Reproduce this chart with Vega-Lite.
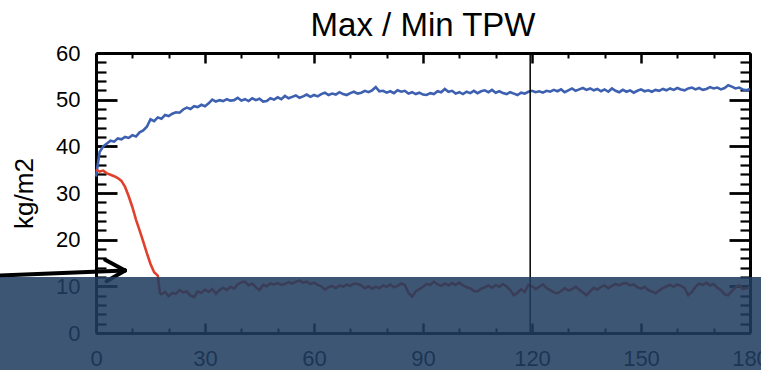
{
  "$schema": "https://vega.github.io/schema/vega-lite/v6.json",
  "width": 654,
  "height": 280,
  "autosize": {"type": "none"},
  "padding": {"left": 96, "top": 53, "right": 11, "bottom": 37},
  "background": "white",
  "config": {"view": {"stroke": null}, "font": "Liberation Sans"},
  "title": {"text": "Max / Min TPW", "fontSize": 33, "font": "Liberation Sans", "fontWeight": "normal", "color": "black", "anchor": "middle", "frame": "group", "baseline": "top", "offset": 14, "dy": 15},
  "datasets": {
    "tpw": [
      {"t":0,"max":33.5,"min":35.0},{"t":1,"max":38.8,"min":34.6},{"t":2,"max":40.0,"min":34.8},{"t":3,"max":40.6,"min":34.2},{"t":4,"max":41.2,"min":33.9},
      {"t":5,"max":41.0,"min":33.6},{"t":6,"max":41.7,"min":33.2},{"t":7,"max":41.5,"min":32.6},{"t":8,"max":42.0,"min":31.3},{"t":9,"max":41.8,"min":29.3},
      {"t":10,"max":42.4,"min":27.0},{"t":11,"max":42.1,"min":24.3},{"t":12,"max":43.0,"min":22.0},{"t":13,"max":43.4,"min":19.6},{"t":14,"max":44.2,"min":17.1},
      {"t":15,"max":45.8,"min":14.8},{"t":16,"max":45.4,"min":13.0},{"t":17,"max":46.2,"min":12.3},{"t":17.6,"max":null,"min":8.5},{"t":18,"max":45.9,"min":8.3},{"t":19,"max":46.7,"min":8.8},
      {"t":20,"max":46.5,"min":7.9},{"t":21,"max":47.0,"min":8.6},{"t":22,"max":47.3,"min":8.4},{"t":23,"max":47.2,"min":9.2},{"t":24,"max":47.9,"min":8.7},
      {"t":25,"max":48.3,"min":8.9},{"t":26,"max":48.0,"min":8.0},{"t":27,"max":48.6,"min":7.7},{"t":28,"max":48.4,"min":8.9},{"t":29,"max":48.9,"min":8.6},
      {"t":30,"max":48.6,"min":9.3},{"t":31,"max":49.2,"min":8.8},{"t":32,"max":50.0,"min":9.4},{"t":33,"max":49.6,"min":8.4},{"t":34,"max":49.9,"min":9.2},
      {"t":35,"max":49.7,"min":9.7},{"t":36,"max":50.1,"min":9.2},{"t":37,"max":49.8,"min":9.9},{"t":38,"max":49.9,"min":9.5},{"t":39,"max":50.4,"min":10.4},
      {"t":40,"max":49.8,"min":10.9},{"t":41,"max":50.1,"min":11.0},{"t":42,"max":49.7,"min":10.2},{"t":43,"max":50.3,"min":10.6},{"t":44,"max":49.9,"min":9.8},
      {"t":45,"max":50.2,"min":9.2},{"t":46,"max":49.6,"min":10.3},{"t":47,"max":49.7,"min":10.0},{"t":48,"max":50.3,"min":10.6},{"t":49,"max":50.0,"min":10.4},
      {"t":50,"max":50.5,"min":10.7},{"t":51,"max":50.1,"min":10.3},{"t":52,"max":50.8,"min":10.5},{"t":53,"max":50.3,"min":10.9},{"t":54,"max":50.6,"min":10.6},
      {"t":55,"max":50.9,"min":11.0},{"t":56,"max":50.4,"min":11.2},{"t":57,"max":50.7,"min":10.8},{"t":58,"max":51.1,"min":11.0},{"t":59,"max":50.6,"min":10.5},
      {"t":60,"max":51.0,"min":10.8},{"t":61,"max":50.7,"min":10.3},{"t":62,"max":51.2,"min":10.0},{"t":63,"max":51.5,"min":9.3},{"t":64,"max":51.0,"min":9.8},
      {"t":65,"max":51.3,"min":10.1},{"t":66,"max":51.1,"min":9.6},{"t":67,"max":51.6,"min":10.2},{"t":68,"max":51.2,"min":9.9},{"t":69,"max":51.0,"min":10.4},
      {"t":70,"max":51.4,"min":10.1},{"t":71,"max":51.7,"min":10.6},{"t":72,"max":51.3,"min":10.5},{"t":73,"max":51.5,"min":10.2},{"t":74,"max":51.9,"min":9.6},
      {"t":75,"max":51.6,"min":10.0},{"t":76,"max":52.0,"min":9.5},{"t":77,"max":52.7,"min":9.9},{"t":78,"max":51.8,"min":9.6},{"t":79,"max":51.9,"min":10.2},
      {"t":80,"max":51.5,"min":9.9},{"t":81,"max":51.8,"min":10.4},{"t":82,"max":51.4,"min":9.8},{"t":83,"max":52.0,"min":10.1},{"t":84,"max":51.7,"min":10.6},
      {"t":85,"max":51.9,"min":10.3},{"t":86,"max":51.3,"min":8.6},{"t":87,"max":51.6,"min":7.8},{"t":88,"max":51.2,"min":8.9},{"t":89,"max":51.5,"min":9.4},
      {"t":90,"max":51.1,"min":9.9},{"t":91,"max":51.0,"min":10.5},{"t":92,"max":51.4,"min":10.3},{"t":93,"max":51.2,"min":11.0},{"t":94,"max":51.8,"min":10.4},
      {"t":95,"max":51.6,"min":10.1},{"t":96,"max":52.3,"min":10.6},{"t":97,"max":51.7,"min":10.2},{"t":98,"max":51.9,"min":10.7},{"t":99,"max":51.3,"min":10.3},
      {"t":100,"max":51.6,"min":10.8},{"t":101,"max":51.2,"min":10.2},{"t":102,"max":51.7,"min":9.8},{"t":103,"max":51.4,"min":9.6},{"t":104,"max":51.9,"min":9.0},
      {"t":105,"max":51.4,"min":8.9},{"t":106,"max":51.8,"min":9.5},{"t":107,"max":52.0,"min":9.8},{"t":108,"max":51.6,"min":10.2},{"t":109,"max":52.1,"min":9.7},
      {"t":110,"max":51.5,"min":10.3},{"t":111,"max":51.8,"min":9.9},{"t":112,"max":51.4,"min":10.5},{"t":113,"max":51.2,"min":10.0},{"t":114,"max":51.6,"min":9.2},
      {"t":115,"max":51.3,"min":8.1},{"t":116,"max":51.0,"min":8.6},{"t":117,"max":51.5,"min":9.4},{"t":118,"max":51.3,"min":8.8},{"t":119,"max":51.7,"min":10.3},
      {"t":120,"max":51.9,"min":10.0},{"t":121,"max":51.6,"min":9.4},{"t":122,"max":51.8,"min":9.9},{"t":123,"max":51.5,"min":10.4},{"t":124,"max":51.9,"min":9.6},
      {"t":125,"max":51.7,"min":9.2},{"t":126,"max":52.1,"min":8.7},{"t":127,"max":51.8,"min":8.5},{"t":128,"max":52.2,"min":9.0},{"t":129,"max":51.6,"min":9.6},
      {"t":130,"max":52.0,"min":9.1},{"t":131,"max":52.4,"min":9.4},{"t":132,"max":51.9,"min":9.9},{"t":133,"max":52.2,"min":9.3},{"t":134,"max":52.5,"min":8.7},
      {"t":135,"max":52.1,"min":8.1},{"t":136,"max":52.4,"min":8.9},{"t":137,"max":52.0,"min":9.7},{"t":138,"max":52.3,"min":9.3},{"t":139,"max":51.8,"min":9.9},
      {"t":140,"max":52.2,"min":10.2},{"t":141,"max":51.7,"min":9.6},{"t":142,"max":52.4,"min":10.1},{"t":143,"max":51.9,"min":10.5},{"t":144,"max":51.6,"min":10.2},
      {"t":145,"max":52.1,"min":10.6},{"t":146,"max":51.7,"min":10.7},{"t":147,"max":52.0,"min":10.2},{"t":148,"max":51.5,"min":10.4},{"t":149,"max":51.9,"min":9.8},
      {"t":150,"max":52.2,"min":9.5},{"t":151,"max":51.8,"min":9.9},{"t":152,"max":52.0,"min":9.2},{"t":153,"max":51.7,"min":8.9},{"t":154,"max":52.1,"min":8.5},
      {"t":155,"max":51.9,"min":9.1},{"t":156,"max":52.3,"min":9.6},{"t":157,"max":52.0,"min":10.0},{"t":158,"max":52.4,"min":10.3},{"t":159,"max":52.1,"min":9.9},
      {"t":160,"max":52.5,"min":10.4},{"t":161,"max":52.2,"min":10.1},{"t":162,"max":52.0,"min":9.6},{"t":163,"max":52.4,"min":8.1},{"t":164,"max":52.6,"min":8.8},
      {"t":165,"max":52.2,"min":9.9},{"t":166,"max":52.5,"min":10.6},{"t":167,"max":52.1,"min":10.3},{"t":168,"max":52.3,"min":10.8},{"t":169,"max":52.7,"min":10.2},
      {"t":170,"max":52.4,"min":10.5},{"t":171,"max":52.6,"min":9.7},{"t":172,"max":52.2,"min":9.2},{"t":173,"max":52.5,"min":8.3},{"t":174,"max":53.1,"min":8.1},
      {"t":175,"max":52.8,"min":9.0},{"t":176,"max":52.4,"min":9.8},{"t":177,"max":52.6,"min":10.2},{"t":178,"max":52.2,"min":9.4},{"t":179,"max":52.0,"min":9.6},
      {"t":180,"max":52.3,"min":9.8}
    ],
    "marker": [{"t":119.5,"lo":0,"hi":60}],
    "arrow": [
      {"xa":-26.4,"ya":12.3,"xb":8.0,"yb":13.4},
      {"xa":2.5,"ya":15.7,"xb":8.0,"yb":13.4},
      {"xa":2.9,"ya":11.1,"xb":8.0,"yb":13.4}
    ],
    "overlay": [{"xa":-30,"xb":190,"ya":-10,"yb":12}]
  },
  "resolve": {"axis": {"x": "independent", "y": "independent"}},
  "layer": [
    {
      "data": {"name": "tpw"},
      "transform": [{"filter": "datum.max != null"}],
      "mark": {"type": "line", "color": "#3d60b0", "strokeWidth": 2.6},
      "encoding": {
        "x": {"field": "t", "type": "quantitative", "scale": {"domain": [0, 180], "nice": false, "zero": false},
          "axis": {"orient": "bottom", "values": [0,30,60,90,120,150,180], "ticks": false, "tickSize": 0, "labelPadding": 15, "labelFontSize": 22, "labelFont": "Liberation Sans", "labelColor": "black", "labelFlush": false, "labelOverlap": false, "domainColor": "black", "domainWidth": 3, "grid": false, "title": null, "zindex": 0}},
        "y": {"field": "max", "type": "quantitative", "scale": {"domain": [0, 60], "nice": false, "zero": false},
          "axis": {"orient": "left", "values": [0,10,20,30,40,50,60], "ticks": false, "tickSize": 0, "labelPadding": 16, "labelFontSize": 22, "labelFont": "Liberation Sans", "labelColor": "black", "labelOverlap": false, "domainColor": "black", "domainWidth": 3, "grid": false, "title": "kg/m2", "titleFont": "Liberation Sans", "titleFontSize": 26, "titleFontWeight": "normal", "titleColor": "black", "titlePadding": 18, "zindex": 0}}
      }
    },
    {
      "data": {"name": "tpw"},
      "mark": {"type": "line", "color": "#e0412c", "strokeWidth": 2.6},
      "encoding": {
        "x": {"field": "t", "type": "quantitative", "scale": {"domain": [0, 180], "nice": false, "zero": false},
          "axis": {"orient": "bottom", "values": [0,30,60,90,120,150,180], "labels": false, "domain": false, "tickSize": -10, "tickWidth": 2.5, "tickColor": "black", "grid": false, "title": null, "zindex": 0}},
        "y": {"field": "min", "type": "quantitative", "scale": {"domain": [0, 60], "nice": false, "zero": false},
          "axis": {"orient": "left", "values": [0,10,20,30,40,50,60], "labels": false, "domain": false, "tickSize": -21, "tickWidth": 2.8, "tickColor": "black", "grid": false, "title": null, "zindex": 0}}
      }
    },
    {
      "data": {"name": "marker"},
      "mark": {"type": "rule", "color": "black", "strokeWidth": 1.5},
      "encoding": {
        "x": {"field": "t", "type": "quantitative", "scale": {"domain": [0, 180], "nice": false, "zero": false},
          "axis": {"orient": "bottom", "values": [10,20,40,50,70,80,100,110,130,140,160,170], "labels": false, "domain": false, "tickSize": -5, "tickWidth": 2, "tickColor": "black", "grid": false, "title": null, "zindex": 0}},
        "y": {"field": "lo", "type": "quantitative", "scale": {"domain": [0, 60], "nice": false, "zero": false},
          "axis": {"orient": "left", "values": [2,4,6,8,12,14,16,18,22,24,26,28,32,34,36,38,42,44,46,48,52,54,56,58], "labels": false, "domain": false, "tickSize": -10, "tickWidth": 2.2, "tickColor": "black", "grid": false, "title": null, "zindex": 0}},
        "y2": {"field": "hi"}
      }
    },
    {
      "data": {"name": "arrow"},
      "mark": {"type": "rule", "color": "black", "strokeWidth": 4, "strokeCap": "round"},
      "encoding": {
        "x": {"field": "xa", "type": "quantitative", "scale": {"domain": [0, 180], "nice": false, "zero": false},
          "axis": {"orient": "top", "values": [0,30,60,90,120,150,180], "labels": false, "domain": true, "domainColor": "black", "domainWidth": 3, "tickSize": -10, "tickWidth": 2.5, "tickColor": "black", "grid": false, "title": null, "zindex": 0}},
        "x2": {"field": "xb"},
        "y": {"field": "ya", "type": "quantitative", "scale": {"domain": [0, 60], "nice": false, "zero": false},
          "axis": {"orient": "right", "values": [0,10,20,30,40,50,60], "labels": false, "domain": true, "domainColor": "black", "domainWidth": 3, "tickSize": -21, "tickWidth": 2.8, "tickColor": "black", "grid": false, "title": null, "zindex": 0}},
        "y2": {"field": "yb"}
      }
    },
    {
      "data": {"name": "overlay"},
      "mark": {"type": "rect", "color": "rgb(32,61,95)", "opacity": 0.87},
      "encoding": {
        "x": {"field": "xa", "type": "quantitative", "scale": {"domain": [0, 180], "nice": false, "zero": false},
          "axis": {"orient": "top", "values": [10,20,40,50,70,80,100,110,130,140,160,170], "labels": false, "domain": false, "tickSize": -5, "tickWidth": 2, "tickColor": "black", "grid": false, "title": null, "zindex": 0}},
        "x2": {"field": "xb"},
        "y": {"field": "ya", "type": "quantitative", "scale": {"domain": [0, 60], "nice": false, "zero": false},
          "axis": {"orient": "right", "values": [2,4,6,8,12,14,16,18,22,24,26,28,32,34,36,38,42,44,46,48,52,54,56,58], "labels": false, "domain": false, "tickSize": -10, "tickWidth": 2.2, "tickColor": "black", "grid": false, "title": null, "zindex": 0}},
        "y2": {"field": "yb"}
      }
    }
  ]
}
